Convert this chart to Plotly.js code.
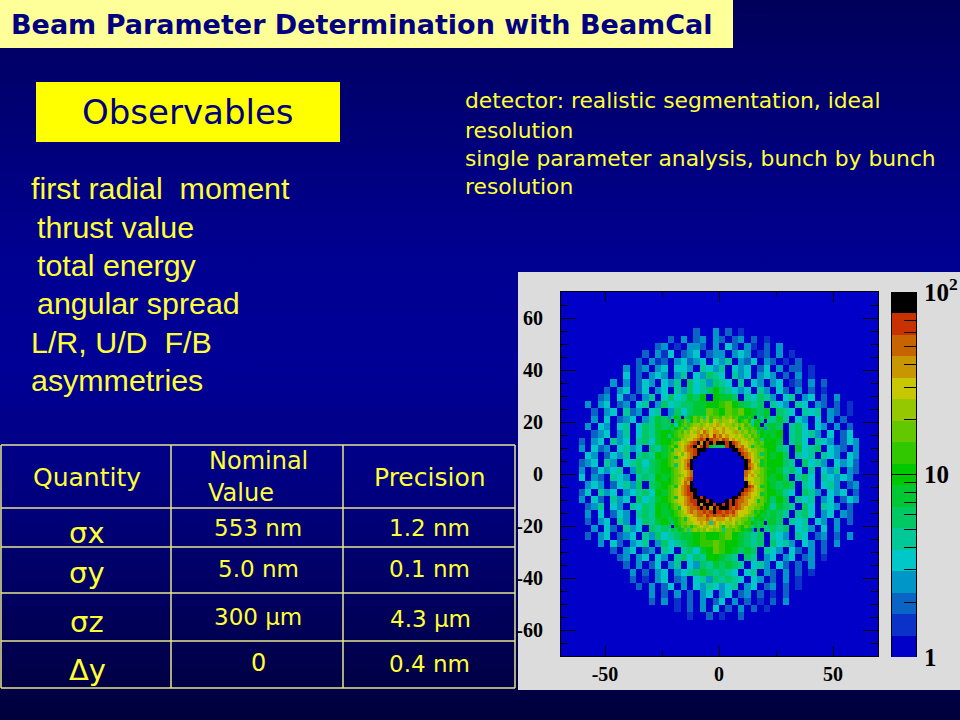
<!DOCTYPE html>
<html><head><meta charset="utf-8">
<script src="https://cdn.plot.ly/plotly-3.0.1.min.js"></script>
<style>html,body{margin:0;padding:0;width:960px;height:720px;overflow:hidden;background:linear-gradient(#00005a 0%,#00006e 12%,#000090 35%,#000096 50%,#000080 68%,#000050 90%,#00003c 100%);}</style>
</head><body><div id="chart" style="width:960px;height:720px"></div>
<script>
// Hits per bin, as colour-band index 0..g (base 17).
// Whole-detector map: coarse bins, rows top to bottom, only the occupied chord of each row.
const outerRows = [
"","","","","",
"0200302010",
"2030230320230201",
"0230103320304203102030",
"203140234023303430120301",
"0203120342340435032403201020",
"302303404430543504340240302201",
"04020343035043654053403430203010",
"3030243043506453654050430340120302",
"203402403405364568654340530420302010",
"0230412035046457680877605465304503402030",
"3034023045036456677889a8765605430540320201",
"0203405230450364677a98a9a87670654054503201",
"304023403576aaaaaaaaaaaaaaaa575043040302",
"3043045046576aaaaaaaaaaaaaaaa7605640430302",
"0234035046578aaaaaaaaaaaaaaaa7805645304024",
"20340534056478aaaaaaaaaaaaaaaa87056405430243",
"30423045340657aaaaaaaaaaaaaaaa86507456043203",
"04302435056587aaaaaaaaaaaaaaaa78605450543043",
"23405304564678aaaaaaaaaaaaaaaa88650645304342",
"30243450365678aaaaaaaaaaaaaaaa87564050435032",
"40320543056587aaaaaaaaaaaaaaaa78605640543430",
"03430245360678aaaaaaaaaaaaaaaa76760540453023",
"24053403456487aaaaaaaaaaaaaaaa87540653043402",
"30420534064578aaaaaaaaaaaaaaaa68605450340243",
"02350430546587aaaaaaaaaaaaaaaa57650640543020",
"3040243056587aaaaaaaaaaaaaaaa7650564034032",
"2034053046578aaaaaaaaaaaaaaaa7605450430302",
"304205340656aaaaaaaaaaaaaaaa656045304030",
"2034023405364567789889a8765605430540230203",
"0304203450364567899a98876560645304302030",
"2034023054056478a98767605430420302",
"0230340430564658876506503403402301",
"203024035043657676504530420203",
"030203403456765654045032030201",
"2010340230453656540430203010",
"20302403043543450340230201",
"030203020340340230201020",
"2030102030240302010203",
"0102030402030201",
"1002010020",
"","","","",""
];
// Fine bins around the beam hole, rows top to bottom.
const innerRows = [
"36870678a9a5b9aa9bab9a7879806586",
"70687a58a9bab9cbabbcba89a8478605",
"68489a9abbabcbcdbcbbabab9a587067",
"7689a6abcbdcbcdccdcbbc7ba9a98736",
"879a9bacbdcedcddcdccbdbab9aa6877",
"589aabbccdedecfdecdccbcbab9a9878",
"8979bbccdefegfeedfecdcbcbab99587",
"89abcbdefgdgfgegggfgfedccbba9a88",
"9a8bcdefgdfgf76666fggedecb7aa988",
"97bbcdeefggg00000000ggfedcbbaa98",
"9abcacdefg000000000000gfedcba698",
"9a7bccdeg00000000000000gedcbaa98",
"9abbcdeg0000000000000000gfcbb798",
"9a6bcdfg0000000000000000gedca798",
"89abcdeg0000000000000000gfdcba97",
"89abccde0000000000000000edcbba98",
"79aabcde0000000000000000ecdcaa98",
"89abcdef0000000000000000dccbba97",
"89abcedg0000000000000000gdcbba98",
"9a7cdefg0000000000000000gfecb798",
"9abcdefgg00000000000000gfedcba98",
"9abcdeffg0000000000000gfedccb798",
"9a7ccdefggfg00000000ggfeddcbba98",
"9abccdeffgggfg0000gfgfeedccb7a98",
"89abcdeefgdgggfggfgfgfeddcbbaa87",
"89a7ccdeefgfgdgfgggfefedcbbaa987",
"789abcdedeefefgffefefdcccba79876",
"789abbccdeedfefeefededccbaa98776",
"6789a7bccdddedcdddcdcbbaa9587867",
"7689aabbccdcd5dcbcbbcaba99876707",
"6087a9a7abcbbcbca7baba98a9576756",
"57687a5ababacbaba5aa9a9878307065"
];
const bandColors = ["#0000c8","#0a32c8","#0a64c4","#0096c8","#00c8c8","#00c896","#00c864","#00c832","#00c800","#32c800","#64c800","#96c800","#c8c800","#c89600","#c86400","#c83200","#000000"];
const barTickValues = [1,10,100];
const barTickLabels = ["1","10","10<sup>2</sup>"];
const barMinorValues = [2,3,4,5,6,7,8,9,20,30,40,50,60,70,80,90];
const xTickValues = [-50,0,50], xTickLabels = ["-50","0","50"], xMinorValues = [-25,25];
const yTickValues = [-60,-40,-20,0,20,40,60], yTickLabels = ["-60","-40","-20","0","20","40","60"];
const yMinorValues = [-65,-55,-50,-45,-35,-30,-25,-15,-10,-5,5,10,15,25,30,35,45,50,55,65];

const titleText = "Beam Parameter Determination with BeamCal";
const boxText = "Observables";
const observableLines = [["first radial  moment",29,188],["thrust value",35,227],["total energy",35,265],["angular spread",35,303],["L/R, U/D  F/B",29,342],["asymmetries",29,380]];
const detectorLines = ["detector: realistic segmentation, ideal","resolution","single parameter analysis, bunch by bunch","resolution"];
const detectorLineY = [101,130,158,187];
const tableCells = [
 ["Quantity",87,477,25],["Nominal",258,461,24],["Value",241,493,24],["Precision",430,477,25],
 ["σx",87,533,29],["553 nm",258,528,23],["1.2 nm",429,528,23],
 ["σy",87,573,29],["5.0 nm",258,569,23],["0.1 nm",429,569,23],
 ["σz",87,622,29],["300 μm",258,617,23],["4.3 μm",430,619,23],
 ["Δy",87,670,29],["0",258,663,24],["0.4 nm",429,664,23]];
const tableRowLines = [445,508,547,593,641,688];
const tableColLines = [1,171,343,515];

const NB = bandColors.length;
const decode = ch => parseInt(ch,17)+0.5;
const toZ = (rows,w) => rows.map(r=>{
  const pad = Math.floor((w-r.length)/2);
  const s = "0".repeat(Math.max(pad,0))+r;
  return s.padEnd(w,"0").split("").map(decode);
});
const colorscale = [];
bandColors.forEach((c,i)=>{colorscale.push([i/NB,c]);colorscale.push([(i+1)/NB,c]);});
const barEdges = Array.from({length:NB+1},(_,i)=>Math.pow(10,2*i/NB));
const barZ = bandColors.map((_,i)=>[i+0.5]);

const W=960,H=720, px=x=>x/W, py=y=>1-y/H;
const shapes=[
 {type:"rect",layer:"below",xref:"paper",yref:"paper",x0:px(518),x1:1,y0:py(272),y1:py(690),fillcolor:"#dcdcdc",line:{width:0}},
 {type:"rect",layer:"below",xref:"paper",yref:"paper",x0:0,x1:px(733),y0:py(0),y1:py(48),fillcolor:"#ffff99",line:{width:0}},
 {type:"rect",layer:"below",xref:"paper",yref:"paper",x0:px(36),x1:px(340),y0:py(82),y1:py(142),fillcolor:"#ffff00",line:{width:0}}
];
const tline="#e6e68c";
tableRowLines.forEach(y=>shapes.push({type:"line",xref:"paper",yref:"paper",x0:px(1),x1:px(515),y0:py(y),y1:py(y),line:{color:tline,width:1.5}}));
tableColLines.forEach(x=>shapes.push({type:"line",xref:"paper",yref:"paper",x0:px(x),x1:px(x),y0:py(445),y1:py(688),line:{color:tline,width:1.5}}));

const comic="DejaVu Sans";
const ann=(text,x,y,size,color,family,anchor,bold)=>({text:bold?"<b>"+text+"</b>":text,xref:"paper",yref:"paper",x:px(x),y:py(y),xanchor:anchor,yanchor:"middle",showarrow:false,font:{size:size,color:color,family:family},align:"left"});
const annotations=[
 ann(titleText,9,25,27,"#000080",comic,"left",true),
 ann(boxText,188,112,34,"#000080",comic,"center",false)
];
observableLines.forEach(l=>annotations.push(ann(l[0],l[1],l[2],30.4,"#ffff33","Liberation Sans","left",false)));
detectorLines.forEach((t,i)=>annotations.push(ann(t,463,detectorLineY[i],21.8,"#ffff33",comic,"left",false)));
tableCells.forEach(c=>annotations.push(ann(c[0],c[1],c[2],c[3],"#ffff33",comic,"center",false)));

const tickFont={family:"Liberation Serif",size:20,color:"#000",weight:700};
const data=[
 {type:"heatmap",z:toZ(outerRows,50),x0:-68.6,dx:2.8,y0:68.6,dy:-2.8,zmin:0,zmax:NB,colorscale:colorscale,hoverinfo:"skip",showscale:false},
 {type:"heatmap",z:toZ(innerRows,32),x0:-21.7,dx:1.4,y0:21.7,dy:-1.4,zmin:0,zmax:NB,colorscale:colorscale,hoverinfo:"skip",showscale:false},
 {type:"heatmap",xaxis:"x2",yaxis:"y2",z:barZ,x:[0,1],y:barEdges,zmin:0,zmax:NB,colorscale:colorscale,hoverinfo:"skip",showscale:false}
];
const layout={width:W,height:H,margin:{l:0,r:0,t:0,b:0},paper_bgcolor:"rgba(0,0,0,0)",plot_bgcolor:"#0000c8",showlegend:false,
 shapes:shapes,annotations:annotations,
 xaxis:{domain:[px(561),px(878)],range:[-69.3,69.7],tickmode:"array",tickvals:xTickValues,ticktext:xTickLabels,ticks:"inside",ticklen:10,tickcolor:"#000",
  minor:{tickmode:"array",tickvals:xMinorValues,ticks:"inside",ticklen:5,tickcolor:"#000",showgrid:false},
  showgrid:false,zeroline:false,showline:true,linecolor:"#000",linewidth:1,mirror:"allticks",tickfont:tickFont,ticklabelstandoff:0},
 yaxis:{domain:[py(656),py(292)],range:[-70,70],tickmode:"array",tickvals:yTickValues,ticktext:yTickLabels,ticks:"inside",ticklen:15,tickcolor:"#000",
  minor:{tickmode:"array",tickvals:yMinorValues,ticks:"inside",ticklen:7,tickcolor:"#000",showgrid:false},
  showgrid:false,zeroline:false,showline:true,linecolor:"#000",linewidth:1,mirror:"allticks",tickfont:tickFont,ticklabelstandoff:13},
 xaxis2:{domain:[px(892),px(916)],anchor:"y2",range:[0,1],visible:false,fixedrange:true},
 yaxis2:{domain:[py(657),py(292)],anchor:"x2",side:"right",type:"log",range:[0,2],tickmode:"array",tickvals:barTickValues,ticktext:barTickLabels,ticks:"inside",ticklen:24,tickcolor:"#000",
  minor:{tickmode:"array",tickvals:barMinorValues,ticks:"inside",ticklen:12,tickcolor:"#000",showgrid:false},
  showgrid:false,zeroline:false,showline:true,linecolor:"#000",linewidth:1,mirror:true,
  tickfont:{family:"Liberation Serif",size:25,color:"#000",weight:700},ticklabelstandoff:2}
};
Plotly.newPlot("chart",data,layout,{displayModeBar:false,staticPlot:true});
</script></body></html>
